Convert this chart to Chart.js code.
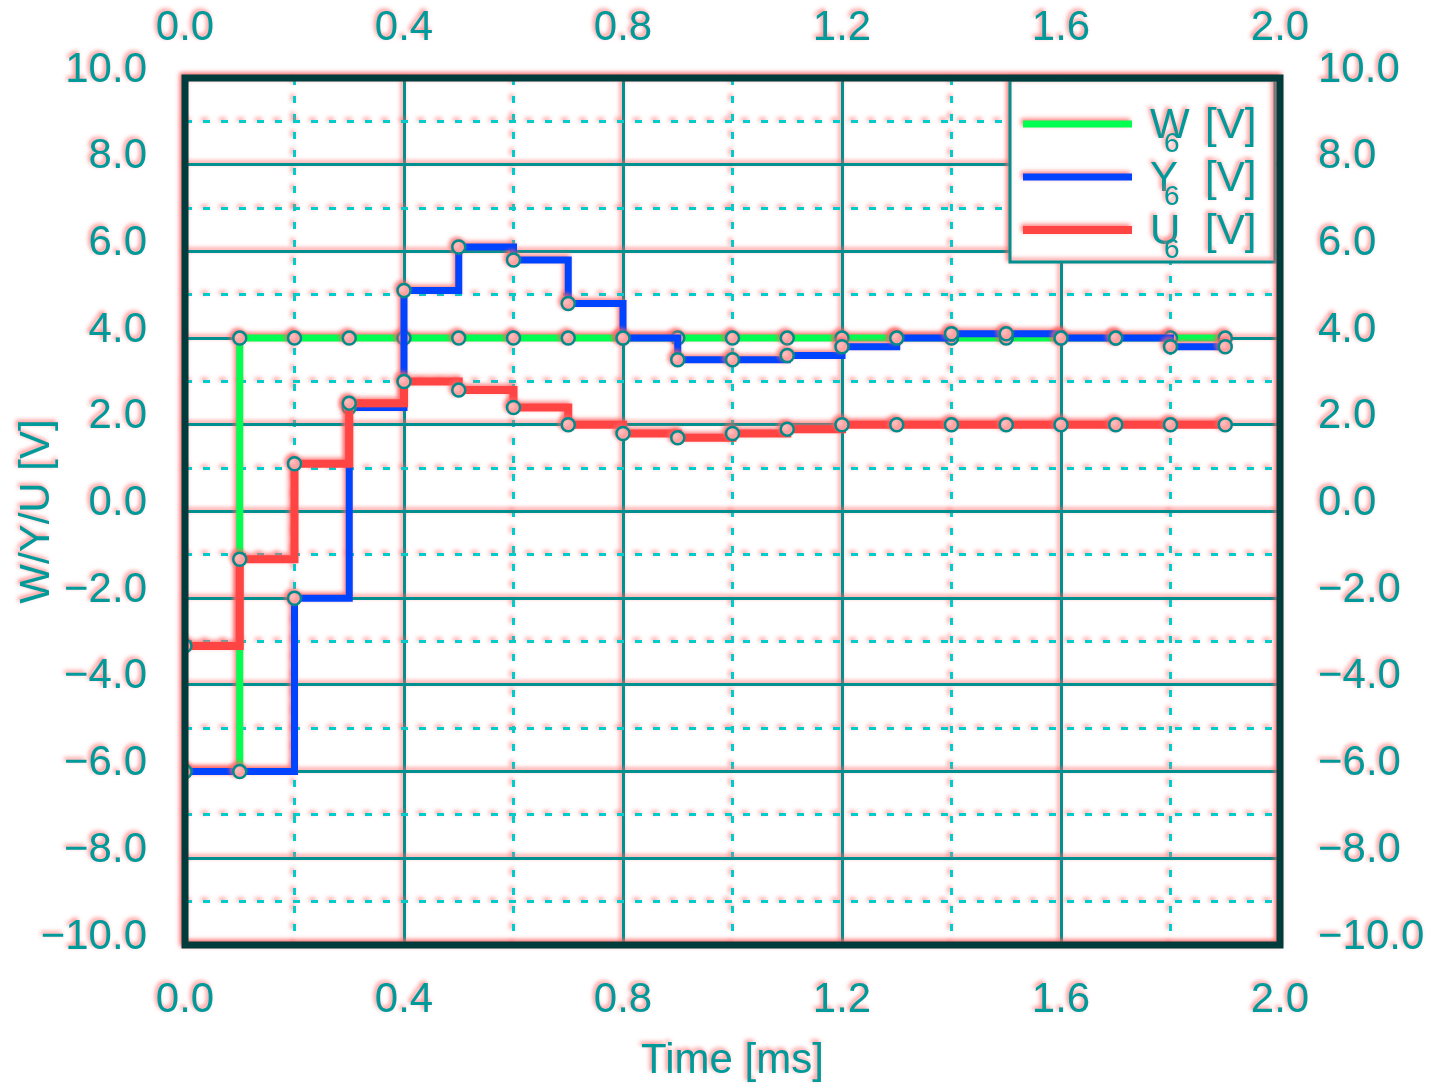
<!DOCTYPE html>
<html>
<head>
<meta charset="utf-8">
<script src="https://cdn.jsdelivr.net/npm/chart.js@4.4.1/dist/chart.umd.min.js"></script>
<style>
html, body { margin: 0; padding: 0; background: #fff; }
</style>
</head>
<body>
<canvas id="grafico" width="1433" height="1089"></canvas>
<script>
// dados
const tempo = [0.0, 0.1, 0.2, 0.3, 0.4, 0.5, 0.6, 0.7, 0.8, 0.9, 1.0, 1.1, 1.2, 1.3, 1.4, 1.5, 1.6, 1.7, 1.8, 1.9]
const sinalW = [-6, 4, 4, 4, 4, 4, 4, 4, 4, 4, 4, 4, 4, 4, 4, 4, 4, 4, 4, 4]
const sinalY = [-6, -6, -2, 2.4, 5.1, 6.1, 5.8, 4.8, 4.0, 3.5, 3.5, 3.6, 3.8, 4.0, 4.1, 4.1, 4.0, 4.0, 3.8, 3.8]
const sinalU = [-3.1, -1.1, 1.1, 2.5, 3.0, 2.8, 2.4, 2.0, 1.8, 1.7, 1.8, 1.9, 2.0, 2.0, 2.0, 2.0, 2.0, 2.0, 2.0, 2.0]

const nomes = ['W', 'Y', 'U']
const indices = ['6', '6', '6']
const unidade = '[V]'
const tituloX = 'Time [ms]'
const tituloY = 'W/Y/U [V]'

const corTexto = '#009a9a'
const corGrade = '#009090'
const corTracejado = '#00cccc'
const corMoldura = '#003c3c'
const cores = ['#00ff50', '#0044ff', '#ff4444']
const larguras = [7, 7, 8]

const fonte = { family: 'Liberation Sans', size: 42 }

function pontos(valores) {
    return tempo.map((t, i) => ({ x: t, y: valores[i] }))
}

function rotulo(v) {
    let s = Number(v).toFixed(1)
    return s.replace('-', '\u2212')
}

// sombra rosa e moldura/legenda
const estilo = {
    id: 'estilo',
    beforeDraw(chart) {
        const ctx = chart.ctx
        ctx.save()
        ctx.shadowColor = 'rgba(255, 100, 100, 0.8)'
        ctx.shadowBlur = 4
        ctx.shadowOffsetX = -2
        ctx.shadowOffsetY = -2
    },
    afterDraw(chart) {
        const ctx = chart.ctx
        const a = chart.chartArea

        // legenda
        const lx = a.right - 270
        const ly = a.top + 2
        ctx.fillStyle = '#fff'
        ctx.fillRect(lx, ly, 265, 182)
        ctx.strokeStyle = corGrade
        ctx.lineWidth = 3
        ctx.strokeRect(lx, ly, 265, 182)
        chart.data.datasets.forEach((ds, i) => {
            const y = ly + 44 + i * 53
            ctx.strokeStyle = ds.borderColor
            ctx.lineWidth = ds.borderWidth
            ctx.beginPath()
            ctx.moveTo(lx + 13, y)
            ctx.lineTo(lx + 122, y)
            ctx.stroke()
            ctx.fillStyle = corTexto
            ctx.textBaseline = 'alphabetic'
            ctx.textAlign = 'left'
            ctx.font = '42px "Liberation Sans"'
            ctx.fillText(nomes[i], lx + 140, y + 14)
            ctx.fillText(unidade, lx + 195, y + 14)
            ctx.font = '28px "Liberation Sans"'
            ctx.fillText(indices[i], lx + 154, y + 28)
        })

        // moldura
        ctx.strokeStyle = corMoldura
        ctx.lineWidth = 7
        ctx.strokeRect(a.left, a.top, a.right - a.left, a.bottom - a.top)
        ctx.restore()
    }
}

const eixoX = (pos, mostraGrade) => ({
    type: 'linear',
    position: pos,
    min: 0,
    max: 2,
    afterFit: s => { s.height = pos === 'bottom' ? 144 : 78 },
    ticks: {
        stepSize: 0.2,
        autoSkip: false,
        maxRotation: 0,
        padding: pos === 'bottom' ? 30 : 24,
        color: corTexto,
        font: fonte,
        callback: (v, i) => i % 2 === 0 ? rotulo(v) : ''
    },
    grid: {
        display: mostraGrade,
        drawTicks: false,
        lineWidth: 3,
        color: ctx => ctx.index % 2 === 0 ? corGrade : corTracejado
    },
    border: {
        display: false,
        dash: ctx => (ctx.tick && ctx.index % 2 === 1) ? [7, 11] : []
    },
    title: {
        display: pos === 'bottom',
        text: tituloX,
        color: corTexto,
        font: fonte,
        padding: { top: 0, bottom: 2 }
    }
})

const eixoY = (pos, mostraGrade) => ({
    type: 'linear',
    position: pos,
    min: -10,
    max: 10,
    afterFit: s => { s.width = pos === 'left' ? 185 : 153 },
    ticks: {
        stepSize: 1,
        autoSkip: false,
        padding: 38,
        labelOffset: -8,
        color: corTexto,
        font: fonte,
        callback: (v, i) => i % 2 === 0 ? rotulo(v) : ''
    },
    grid: {
        display: mostraGrade,
        drawTicks: false,
        lineWidth: 3,
        color: ctx => ctx.index % 2 === 0 ? corGrade : corTracejado
    },
    border: {
        display: false,
        dash: ctx => (ctx.tick && ctx.index % 2 === 1) ? [7, 11] : []
    },
    title: {
        display: pos === 'left',
        text: tituloY,
        color: corTexto,
        font: fonte,
        padding: { top: 12, bottom: 0 }
    }
})

const series = [sinalW, sinalY, sinalU]

new Chart(document.getElementById('grafico').getContext('2d'), {
    type: 'line',
    data: {
        datasets: series.map((s, i) => ({
            label: nomes[i] + indices[i] + ' ' + unidade,
            data: pontos(s),
            stepped: true,
            borderColor: cores[i],
            borderWidth: larguras[i],
            pointRadius: 6.5,
            pointBackgroundColor: '#ffc0c0',
            pointBorderColor: '#008c8c',
            pointBorderWidth: 2.5,
            order: 3 - i
        }))
    },
    options: {
        responsive: false,
        animation: false,
        devicePixelRatio: 1,
        layout: { padding: 0 },
        plugins: {
            legend: { display: false },
            tooltip: { enabled: false }
        },
        scales: {
            x: eixoX('bottom', true),
            x2: eixoX('top', false),
            y: eixoY('left', true),
            y2: eixoY('right', false)
        }
    },
    plugins: [estilo]
})
</script>
</body>
</html>
